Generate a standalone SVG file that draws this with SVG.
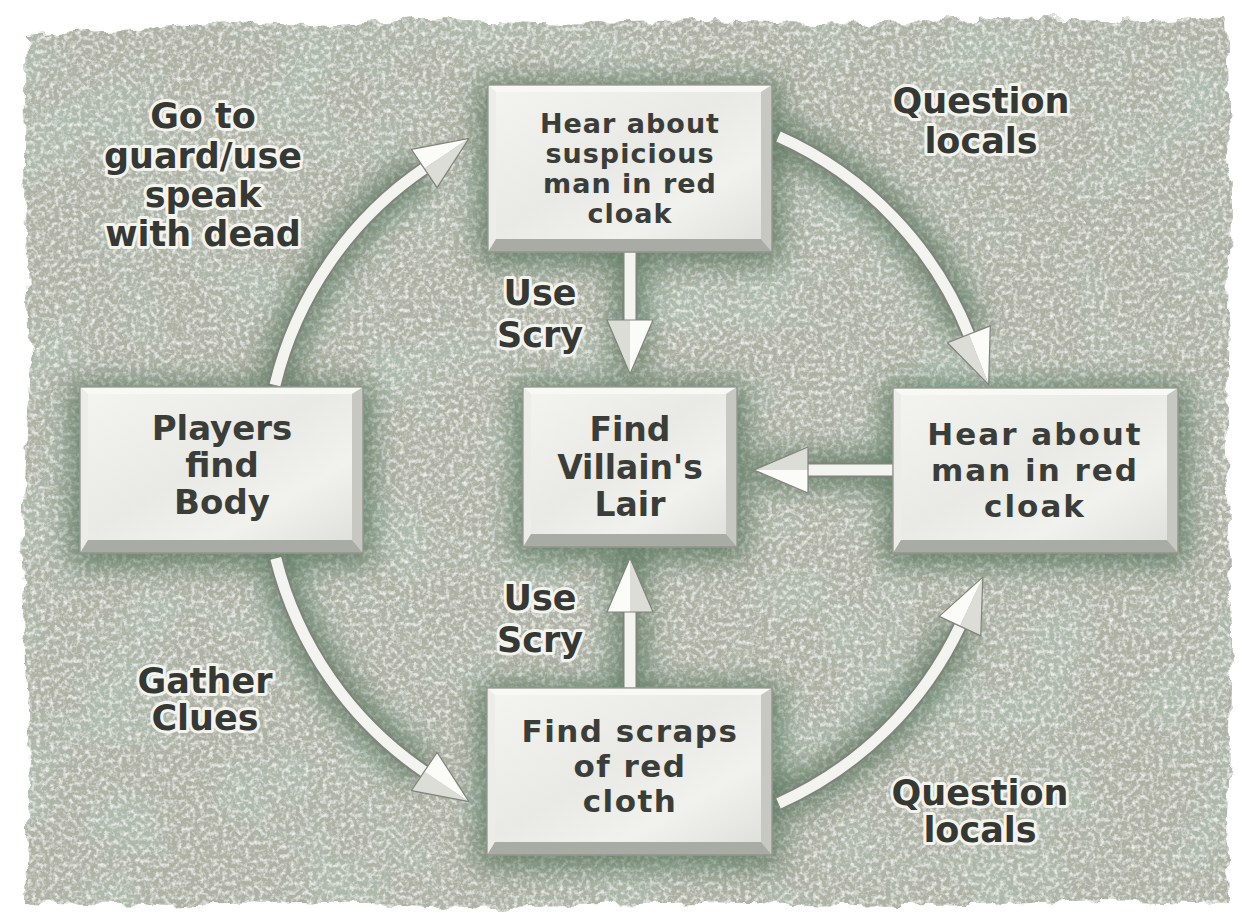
<svg xmlns="http://www.w3.org/2000/svg" width="1239" height="916" viewBox="0 0 1239 916">
<defs>
<style>
.lbl{font-family:"DejaVu Sans","Liberation Sans",sans-serif;font-weight:bold;font-size:35px;fill:#363834;stroke:#f4f4ef;stroke-width:6;paint-order:stroke;stroke-linejoin:round;text-anchor:middle}
.bt{font-family:"DejaVu Sans","Liberation Sans",sans-serif;font-weight:bold;fill:#3b3d39;text-anchor:middle}
.face{fill:url(#marble);stroke:#a9aba4;stroke-width:1}
.bvT{fill:#f8f8f5}.bvL{fill:#ececE8}.bvR{fill:#c6c8c1}.bvB{fill:#a9aca4}
.edge{fill:none;stroke:#8d9088;stroke-width:1.2}
.sho{fill:none;stroke:#7f837b;stroke-width:15}
.shi{fill:none;stroke:#f3f3ef;stroke-width:11;marker-end:url(#ah)}
.glw{fill:none;stroke:#4a6b50;stroke-width:34}
.glr{fill:#4a6b50}
</style>
<linearGradient id="marble" x1="0" y1="0" x2="1" y2="1">
<stop offset="0" stop-color="#f4f4f1"/>
<stop offset="0.45" stop-color="#e9e9e5"/>
<stop offset="0.7" stop-color="#f1f1ee"/>
<stop offset="1" stop-color="#dcddd7"/>
</linearGradient>
<filter id="stone" x="-3%" y="-3%" width="106%" height="106%">
<feTurbulence type="fractalNoise" baseFrequency="0.05" numOctaves="3" seed="2" result="warp"/>
<feDisplacementMap in="SourceGraphic" in2="warp" scale="14" xChannelSelector="R" yChannelSelector="G" result="shape"/>
<feTurbulence type="fractalNoise" baseFrequency="0.012" numOctaves="3" seed="11" result="mott"/>
<feColorMatrix in="mott" type="matrix" values="0 0 0 0 0.42  0 0 0 0 0.52  0 0 0 0 0.44  1.8 0 0 0 -0.75" result="mt"/>
<feComposite in="mt" in2="shape" operator="in" result="mt2"/>
<feTurbulence type="fractalNoise" baseFrequency="0.22" numOctaves="3" seed="5" result="fine"/>
<feColorMatrix in="fine" type="matrix" values="0 0 0 0 0.9  0 0 0 0 0.91  0 0 0 0 0.88  2.2 0 0 0 -0.95" result="spk"/>
<feComposite in="spk" in2="shape" operator="in" result="spk2"/>
<feTurbulence type="fractalNoise" baseFrequency="0.3" numOctaves="2" seed="9" result="fine2"/>
<feColorMatrix in="fine2" type="matrix" values="0 0 0 0 0.5  0 0 0 0 0.55  0 0 0 0 0.5  1.8 0 0 0 -0.9" result="dk"/>
<feComposite in="dk" in2="shape" operator="in" result="dk2"/>
<feMerge><feMergeNode in="shape"/><feMergeNode in="mt2"/><feMergeNode in="dk2"/><feMergeNode in="spk2"/></feMerge>
</filter>
<filter id="glow" x="-20%" y="-20%" width="140%" height="140%"><feGaussianBlur stdDeviation="14"/></filter>
<marker id="ah" markerUnits="userSpaceOnUse" markerWidth="60" markerHeight="52" viewBox="0 0 60 52" refX="6" refY="26" orient="auto">
<polygon points="4,3 58,26 4,26" fill="#fbfbf8"/>
<polygon points="4,26 58,26 4,49" fill="#dcddd6"/>
<polygon points="4,3 58,26 4,49" fill="none" stroke="#80837c" stroke-width="1.2" stroke-linejoin="round"/>
</marker>
</defs>
<rect width="1239" height="916" fill="#ffffff"/>
<path d="M26,36 L120,30 L230,22 L330,26 L420,18 L560,24 L700,20 L860,24 L1000,18 L1140,22 L1226,16 L1230,200 L1226,420 L1232,640 L1228,820 L1230,904 L1100,900 L900,906 L700,902 L500,908 L300,902 L150,906 L26,902 L30,760 L22,560 L30,360 L24,160 Z" fill="#adb0a3" filter="url(#stone)"/>
<g id="shadows" filter="url(#glow)" opacity="0.7">
<rect class="glr" x="478" y="80" width="304" height="185"/>
<rect class="glr" x="70" y="382" width="303" height="184"/>
<rect class="glr" x="513" y="382" width="234" height="178"/>
<rect class="glr" x="883" y="383" width="305" height="183"/>
<rect class="glr" x="477" y="683" width="305" height="185"/>
<path class="glw" d="M275,385 A365,365 0 0 1 425.9,167.4"/>
<path class="glw" d="M778.5,136.6 A365,365 0 0 1 969.6,336.2"/>
<path class="glw" d="M275.8,558.3 A365,365 0 0 0 425.9,772.6"/>
<path class="glw" d="M778.5,803.4 A365,365 0 0 0 960.8,624.3"/>
<path class="glw" d="M630,250 L630,370 M630,690 L630,560 M895,470 L756,470"/>
</g>
<g id="connectors">
<path class="sho" d="M275,385 A365,365 0 0 1 425.9,167.4"/>
<path class="shi" d="M275,385 A365,365 0 0 1 425.9,167.4"/>
<path class="sho" d="M778.5,136.6 A365,365 0 0 1 969.6,336.2"/>
<path class="shi" d="M778.5,136.6 A365,365 0 0 1 969.6,336.2"/>
<path class="sho" d="M275.8,558.3 A365,365 0 0 0 425.9,772.6"/>
<path class="shi" d="M275.8,558.3 A365,365 0 0 0 425.9,772.6"/>
<path class="sho" d="M778.5,803.4 A365,365 0 0 0 960.8,624.3"/>
<path class="shi" d="M778.5,803.4 A365,365 0 0 0 960.8,624.3"/>
<path class="sho" d="M630,250 L630,322"/>
<path class="shi" d="M630,250 L630,322"/>
<path class="sho" d="M630,690 L630,610"/>
<path class="shi" d="M630,690 L630,610"/>
<path class="sho" d="M895,470 L806,470"/>
<path class="shi" d="M895,470 L806,470"/>
</g>
<g id="box-top">
<rect class="face" x="488" y="85" width="284" height="167"/>
<polygon class="bvT" points="488,85 772,85 761,92 496,92"/>
<polygon class="bvL" points="488,85 496,92 496,239 488,252"/>
<polygon class="bvR" points="772,85 772,252 761,239 761,92"/>
<polygon class="bvB" points="488,252 496,239 761,239 772,252"/>
<rect class="edge" x="488" y="85" width="284" height="167"/>
<text class="bt" font-size="27" letter-spacing="1" x="630"><tspan x="630" y="133">Hear about</tspan><tspan x="630" y="163">suspicious</tspan><tspan x="630" y="193">man in red</tspan><tspan x="630" y="223">cloak</tspan></text>
</g>
<g id="box-left">
<rect class="face" x="80" y="387" width="283" height="166"/>
<polygon class="bvT" points="80,387 363,387 352,394 88,394"/>
<polygon class="bvL" points="80,387 88,394 88,540 80,553"/>
<polygon class="bvR" points="363,387 363,553 352,540 352,394"/>
<polygon class="bvB" points="80,553 88,540 352,540 363,553"/>
<rect class="edge" x="80" y="387" width="283" height="166"/>
<text class="bt" font-size="34" x="222"><tspan x="222" y="440">Players</tspan><tspan x="222" y="477">find</tspan><tspan x="222" y="514">Body</tspan></text>
</g>
<g id="box-center">
<rect class="face" x="523" y="387" width="214" height="160"/>
<polygon class="bvT" points="523,387 737,387 726,394 531,394"/>
<polygon class="bvL" points="523,387 531,394 531,534 523,547"/>
<polygon class="bvR" points="737,387 737,547 726,534 726,394"/>
<polygon class="bvB" points="523,547 531,534 726,534 737,547"/>
<rect class="edge" x="523" y="387" width="214" height="160"/>
<text class="bt" font-size="33" x="630"><tspan x="630" y="441">Find</tspan><tspan x="630" y="479">Villain's</tspan><tspan x="630" y="516">Lair</tspan></text>
</g>
<g id="box-right">
<rect class="face" x="893" y="388" width="285" height="165"/>
<polygon class="bvT" points="893,388 1178,388 1167,395 901,395"/>
<polygon class="bvL" points="893,388 901,395 901,540 893,553"/>
<polygon class="bvR" points="1178,388 1178,553 1167,540 1167,395"/>
<polygon class="bvB" points="893,553 901,540 1167,540 1178,553"/>
<rect class="edge" x="893" y="388" width="285" height="165"/>
<text class="bt" font-size="31" letter-spacing="2" x="1035"><tspan x="1035" y="445">Hear about</tspan><tspan x="1035" y="481">man in red</tspan><tspan x="1035" y="517">cloak</tspan></text>
</g>
<g id="box-bottom">
<rect class="face" x="487" y="688" width="285" height="167"/>
<polygon class="bvT" points="487,688 772,688 761,695 495,695"/>
<polygon class="bvL" points="487,688 495,695 495,842 487,855"/>
<polygon class="bvR" points="772,688 772,855 761,842 761,695"/>
<polygon class="bvB" points="487,855 495,842 761,842 772,855"/>
<rect class="edge" x="487" y="688" width="285" height="167"/>
<text class="bt" font-size="31" letter-spacing="1.5" x="630"><tspan x="630" y="742">Find scraps</tspan><tspan x="630" y="777">of red</tspan><tspan x="630" y="812">cloth</tspan></text>
</g>
<g id="labels">
<text class="lbl" x="203"><tspan x="203" y="128">Go to</tspan><tspan x="203" y="168">guard/use</tspan><tspan x="203" y="207">speak</tspan><tspan x="203" y="246">with dead</tspan></text>
<text class="lbl" x="981"><tspan x="981" y="113">Question</tspan><tspan x="981" y="153">locals</tspan></text>
<text class="lbl" x="540"><tspan x="540" y="305">Use</tspan><tspan x="540" y="347">Scry</tspan></text>
<text class="lbl" x="540"><tspan x="540" y="610">Use</tspan><tspan x="540" y="652">Scry</tspan></text>
<text class="lbl" x="205"><tspan x="205" y="693">Gather</tspan><tspan x="205" y="730">Clues</tspan></text>
<text class="lbl" x="980"><tspan x="980" y="805">Question</tspan><tspan x="980" y="842">locals</tspan></text>
</g>
</svg>
